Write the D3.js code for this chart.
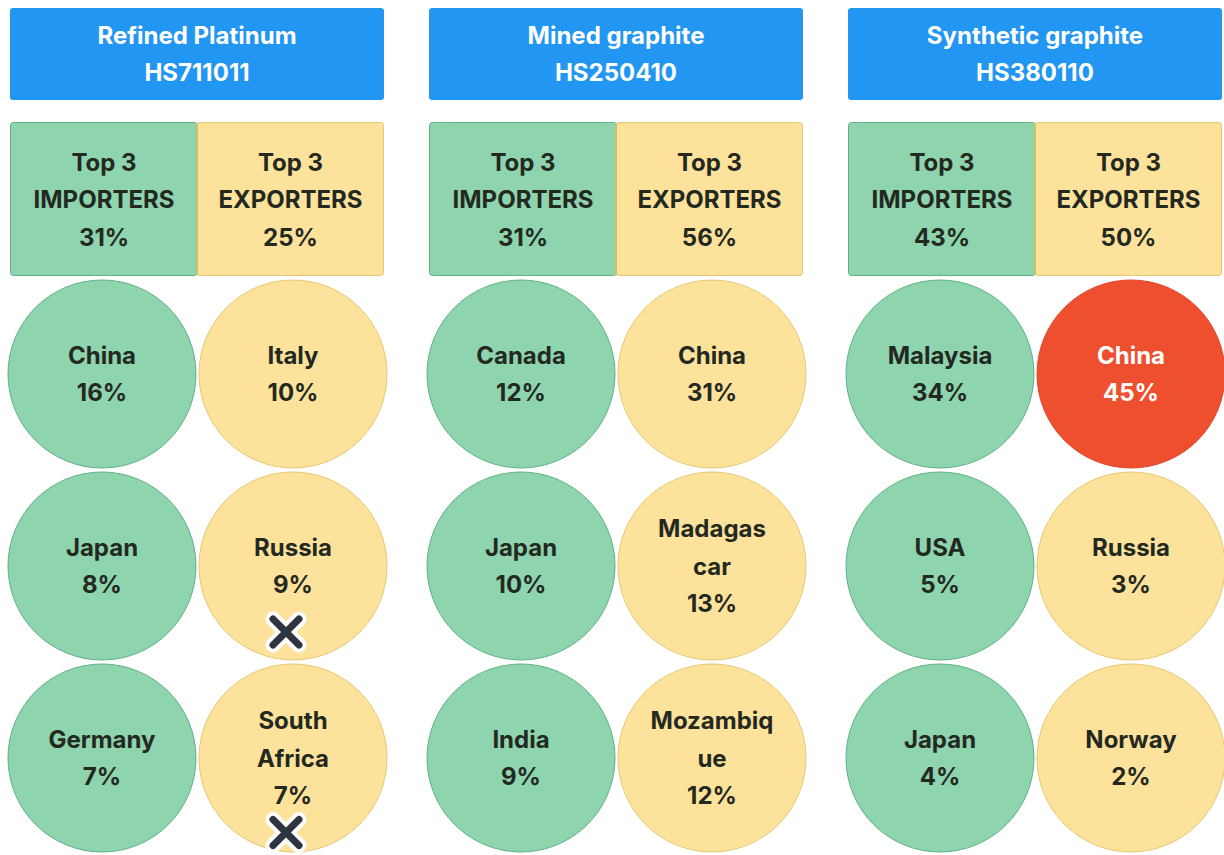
<!DOCTYPE html>
<html>
<head>
<meta charset="utf-8">
<script src="https://cdn.jsdelivr.net/npm/d3@7"></script>
<style>
  html, body { margin: 0; padding: 0; background: #ffffff; }
  svg { display: block; }
  text { font-family: Inter, "Open Sans", "DejaVu Sans", sans-serif; font-weight: 700; }
</style>
</head>
<body>
<svg id="chart" width="1224" height="855"></svg>
<script>
// Commodity trade concentration: top importers / exporters per product
const products = ["Refined Platinum", "Mined graphite", "Synthetic graphite"];
const hsCodes = ["HS711011", "HS250410", "HS380110"];
const importerTotals = [31, 31, 43];
const exporterTotals = [25, 56, 50];

// \u200B marks an invisible break opportunity inside long names
const importerNames = [
  ["China", "Japan", "Germany"],
  ["Canada", "Japan", "India"],
  ["Malaysia", "USA", "Japan"]
];
const importerShares = [
  [16, 8, 7],
  [12, 10, 9],
  [34, 5, 4]
];
const exporterNames = [
  ["Italy", "Russia", "South Africa"],
  ["China", "Madagas\u200Bcar", "Mozambiq\u200Bue"],
  ["China", "Russia", "Norway"]
];
const exporterShares = [
  [10, 9, 7],
  [31, 13, 12],
  [45, 3, 2]
];
// exporters marked with a cross
const exporterFlagged = [
  [false, true, true],
  [false, false, false],
  [false, false, false]
];
// dominant supplier threshold (share of world exports)
const dominanceThreshold = 40;

const svg = d3.select("#chart");

const colors = {
  header: "#2196f3",
  impFill: "#8dd4af", impStroke: "#5fb283",
  expFill: "#fde29c", expStroke: "#e6c872",
  divider: "#c8c36a",
  domFill: "#ee4f2f", domStroke: "#e0452a",
  ink: "#23291f", white: "#ffffff", cross: "#2e3540"
};

const FONT = 24, LINE = 37.5, R = 94, MAXW = 128;

const x = d3.scaleBand().domain(products).range([10, 1222]).paddingInner(45 / 419);
const rowY = d3.scaleBand().domain([0, 1, 2]).range([278, 854]);
const colX = d3.scaleOrdinal().domain(["imp", "exp"]).range([92, 283]);

// break a label into lines no wider than maxW, at spaces or zero-width break points
const measurer = svg.append("text").attr("font-size", FONT).attr("visibility", "hidden");
function textW(s) { measurer.text(s); return measurer.node().getComputedTextLength(); }
function wrap(label, maxW) {
  const lines = [];
  let cur = "";
  const tokens = label.split(/( |\u200B)/);
  for (let i = 0; i < tokens.length; i += 2) {
    const word = tokens[i];
    const sep = i > 0 ? tokens[i - 1] : "";
    const cand = cur ? cur + (sep === " " ? " " : "") + word : word;
    if (textW(cand) <= maxW) { cur = cand; continue; }
    if (cur) lines.push(cur);
    cur = word;
  }
  if (cur) lines.push(cur);
  return lines;
}

function centeredLines(g, lines, cx, cy, fill) {
  const n = lines.length;
  const t = g.append("text")
    .attr("text-anchor", "middle")
    .attr("font-size", FONT)
    .attr("fill", fill);
  lines.forEach((l, i) => {
    t.append("tspan")
      .attr("x", cx)
      .attr("y", cy + (i - (n - 1) / 2) * LINE)
      .attr("dy", "0.36em")
      .text(l);
  });
  return cy + ((n - 1) / 2) * LINE;
}

function drawCross(g, cx, cy) {
  const a = 13;
  const p = `M${cx - a},${cy - a}L${cx + a},${cy + a}M${cx + a},${cy - a}L${cx - a},${cy + a}`;
  g.append("path").attr("d", p).attr("stroke", colors.white).attr("stroke-width", 15)
    .attr("stroke-linecap", "round").attr("fill", "none");
  g.append("path").attr("d", p).attr("stroke", colors.cross).attr("stroke-width", 7)
    .attr("stroke-linecap", "round").attr("fill", "none");
}

products.forEach((prod, pi) => {
  const x0 = x(prod), w = x.bandwidth();
  const g = svg.append("g");

  // product header
  g.append("rect").attr("x", x0).attr("y", 8).attr("width", w).attr("height", 92)
    .attr("rx", 3).attr("fill", colors.header);
  centeredLines(g, [prod, hsCodes[pi]], x0 + w / 2, 54, colors.white);

  // top-3 summary boxes
  const half = w / 2;
  g.append("rect").attr("x", x0 + 0.5).attr("y", 122.5).attr("width", half).attr("height", 153)
    .attr("rx", 3).attr("fill", colors.impFill).attr("stroke", colors.impStroke);
  g.append("rect").attr("x", x0 + half).attr("y", 122.5).attr("width", half - 0.5).attr("height", 153)
    .attr("rx", 3).attr("fill", colors.expFill).attr("stroke", colors.expStroke);
  g.append("line").attr("x1", x0 + half).attr("x2", x0 + half).attr("y1", 123).attr("y2", 275)
    .attr("stroke", colors.divider).attr("stroke-width", 2);
  centeredLines(g, ["Top 3", "IMPORTERS", importerTotals[pi] + "%"], x0 + half / 2 + 0.5, 199.5, colors.ink);
  centeredLines(g, ["Top 3", "EXPORTERS", exporterTotals[pi] + "%"], x0 + half * 1.5, 199.5, colors.ink);

  // country circles
  [0, 1, 2].forEach(ri => {
    const cy = rowY(ri) + rowY.bandwidth() / 2;

    const icx = x0 + colX("imp");
    g.append("circle").attr("cx", icx).attr("cy", cy).attr("r", R)
      .attr("fill", colors.impFill).attr("stroke", colors.impStroke);
    centeredLines(g, [...wrap(importerNames[pi][ri], MAXW), importerShares[pi][ri] + "%"], icx, cy, colors.ink);

    const ecx = x0 + colX("exp");
    const dom = exporterShares[pi][ri] > dominanceThreshold;
    g.append("circle").attr("cx", ecx).attr("cy", cy).attr("r", R)
      .attr("fill", dom ? colors.domFill : colors.expFill)
      .attr("stroke", dom ? colors.domStroke : colors.expStroke);
    const lastY = centeredLines(g, [...wrap(exporterNames[pi][ri], MAXW), exporterShares[pi][ri] + "%"],
      ecx, cy, dom ? colors.white : colors.ink);
    if (exporterFlagged[pi][ri]) {
      drawCross(g, ecx - 7, Math.max(cy + 66, lastY + 37));
    }
  });
});
measurer.remove();
</script>
</body>
</html>
